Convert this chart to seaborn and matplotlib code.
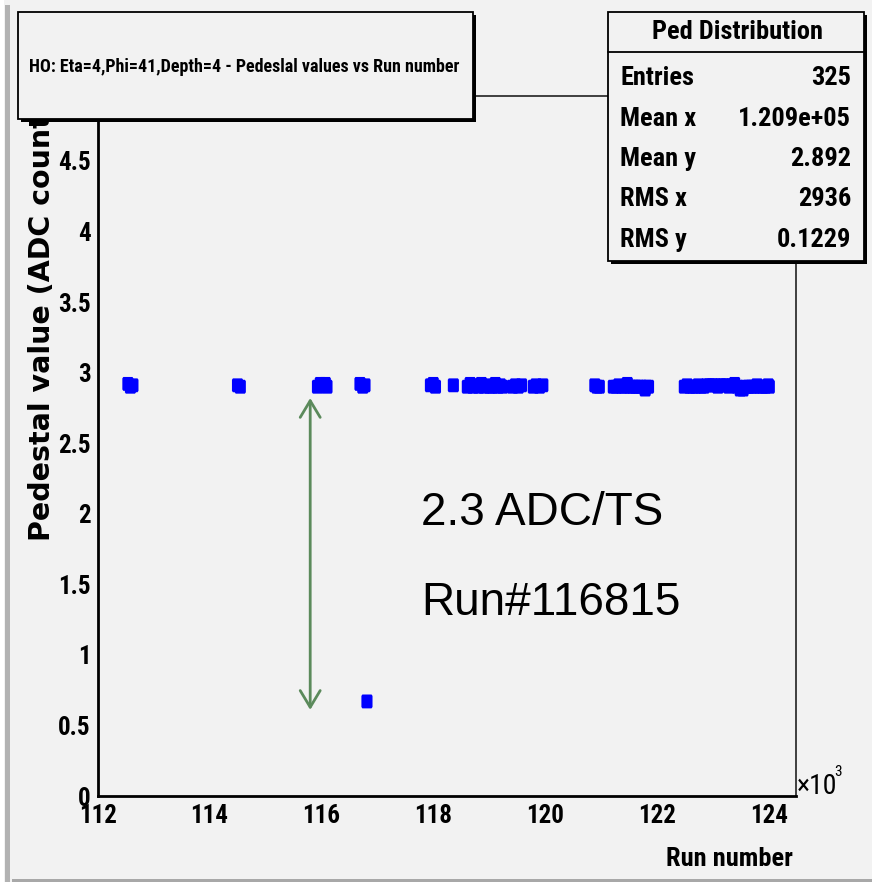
import numpy as np
import pandas as pd
import matplotlib
matplotlib.use("Agg")
import matplotlib.pyplot as plt
import seaborn as sns
from matplotlib.patches import Rectangle
from matplotlib.lines import Line2D
from matplotlib.path import Path
from matplotlib.ticker import MultipleLocator, FuncFormatter
from matplotlib import font_manager

# ---------------- data ----------------
runs = [112540, 112585, 112630,
        114500, 114550,
        115930, 115980, 116030, 116070, 116100,
        116690, 116740, 116780,
        116815,
        117950, 118000, 118040,
        118360,
        118610, 118660, 118710, 118760, 118810, 118860, 118910, 118960,
        119010, 119060, 119110, 119160, 119200, 119240,
        119420, 119470, 119520, 119580,
        119790, 119840, 119900, 119960,
        120890, 120930, 120970,
        121220, 121270, 121320, 121370, 121420, 121470, 121520, 121570,
        121620, 121670, 121720, 121790, 121810, 121850,
        122490, 122540, 122590, 122640, 122690, 122740, 122790, 122840,
        122890, 122940, 122990, 123040, 123090, 123140, 123190, 123240,
        123290, 123340, 123390, 123440, 123490, 123540, 123590, 123640,
        123690, 123740, 123790, 123840, 123890, 123940, 123990, 124010]
peds = [2.92, 2.90, 2.91,
        2.91, 2.90,
        2.90, 2.92, 2.91, 2.92, 2.90,
        2.92, 2.90, 2.91,
        0.67,
        2.91, 2.92, 2.90,
        2.91,
        2.90, 2.92, 2.90, 2.91, 2.90, 2.92, 2.90, 2.91,
        2.90, 2.90, 2.92, 2.90, 2.91, 2.90,
        2.90, 2.91, 2.90, 2.91,
        2.90, 2.91, 2.90, 2.91,
        2.91, 2.90, 2.90,
        2.90, 2.90, 2.91, 2.90, 2.90, 2.92, 2.90, 2.90,
        2.90, 2.90, 2.90, 2.88, 2.90, 2.90,
        2.90, 2.91, 2.90, 2.90, 2.90, 2.91, 2.90, 2.90,
        2.91, 2.91, 2.91, 2.91, 2.90, 2.91, 2.91, 2.91,
        2.90, 2.91, 2.92, 2.90, 2.88, 2.88, 2.90, 2.90,
        2.90, 2.90, 2.91, 2.90, 2.90, 2.90, 2.91, 2.90]

title_text = "HO: Eta=4,Phi=41,Depth=4 - Pedeslal values vs Run number"
stats_title = "Ped Distribution"
stats_labels = ["Entries", "Mean x", "Mean y", "RMS x", "RMS y"]
stats_values = ["325", "1.209e+05", "2.892", "2936", "0.1229"]
note_lines = ["2.3 ADC/TS", "Run#116815"]
arrow_run = 115800
arrow_from, arrow_to = 0.61, 2.82

df = pd.DataFrame({"run": runs, "ped": peds})

# ---------------- style ----------------
sns.set_theme(style="white")
BG = "#f2f2f2"
names = {f.name for f in font_manager.fontManager.ttflist}
NSTRETCH = "normal"
NARROW = None
for cand in ["Liberation Sans Narrow", "Arial Narrow", "Roboto Condensed",
             "Open Sans Condensed", "Noto Sans Condensed"]:
    if cand in names:
        NARROW = [cand, "DejaVu Sans"]
        break
if NARROW is None:
    NARROW = ["DejaVu Sans Condensed", "DejaVu Sans"] if "DejaVu Sans Condensed" in names else ["DejaVu Sans"]
    NSTRETCH = "condensed"
IS_DEJAVU = NARROW[0].startswith("DejaVu")
SC = 0.86 if IS_DEJAVU else 1.0   # DejaVu condensed is wider: shrink a bit

plt.rcParams["font.family"] = NARROW
plt.rcParams["font.stretch"] = NSTRETCH
for k in ["text.color", "axes.labelcolor", "xtick.color", "ytick.color"]:
    plt.rcParams[k] = "black"

NP = dict(family=NARROW, fontstretch=NSTRETCH)

W, H = 872, 882
fig = plt.figure(figsize=(W / 100, H / 100), dpi=100, facecolor=BG)

def fx(x):
    return x / W

def fy(y):
    return 1 - y / H

ax_l, ax_r, ax_t, ax_b = 97.7, 795.6, 96, 796
ax = fig.add_axes([fx(ax_l), fy(ax_b), fx(ax_r - ax_l), (ax_b - ax_t) / H])
ax.set_facecolor(BG)

marker = Path([(-0.33, -0.5), (0.33, -0.5), (0.4, -0.4), (0.4, 0.4),
               (0.33, 0.5), (-0.33, 0.5), (-0.4, 0.4), (-0.4, -0.4),
               (-0.33, -0.5)], closed=True)
sns.scatterplot(data=df, x="run", y="ped", ax=ax, color="#0000ff",
                marker=marker, s=100, edgecolor="none", linewidth=0,
                legend=False, zorder=3)

ax.set_xlim(112000, 124480)
ax.set_ylim(0, 4.96)
ax.xaxis.set_major_locator(MultipleLocator(2000))
ax.xaxis.set_minor_locator(MultipleLocator(500))
ax.yaxis.set_major_locator(MultipleLocator(0.5))
ax.yaxis.set_minor_locator(MultipleLocator(0.1))
ax.xaxis.set_major_formatter(FuncFormatter(lambda v, p: f"{v/1000:.0f}"))
ax.yaxis.set_major_formatter(FuncFormatter(lambda v, p: f"{v:g}"))
ax.tick_params(axis="both", which="major", direction="in", length=16,
               width=1.3, color="black", labelsize=18 * (0.95 if IS_DEJAVU else 1.0))
ax.tick_params(axis="both", which="minor", direction="in", length=8,
               width=1.3, color="black")
ax.tick_params(axis="x", which="major", pad=6)
ax.tick_params(axis="y", which="major", pad=5)
for lab in ax.get_xticklabels() + ax.get_yticklabels():
    lab.set_fontweight("bold")
    lab.set_family(NARROW)
    lab.set_fontstretch(NSTRETCH)
ax.set_xlabel("")
ax.set_ylabel("")
for side in ["left", "bottom"]:
    ax.spines[side].set_linewidth(2.0)
    ax.spines[side].set_color("black")
for side in ["right", "top"]:
    ax.spines[side].set_linewidth(1.2)
    ax.spines[side].set_color("#222222")

# arrow
ax.annotate("", xy=(arrow_run, arrow_from), xytext=(arrow_run, arrow_to),
            arrowprops=dict(arrowstyle="<->,head_length=0.6,head_width=0.36",
                            color="#5b8a5b", lw=2.0, mutation_scale=20,
                            shrinkA=0, shrinkB=0))

# axis titles
fig.text(fx(793), fy(866), "Run number", ha="right", va="baseline",
         fontsize=19, fontweight="bold", **NP)
fig.text(fx(42), fy(541), "Pedestal value (ADC counts)", rotation=90,
         ha="center", va="bottom", fontsize=20.5, fontweight="bold",
         family=["DejaVu Sans"], fontstretch="normal", zorder=1)
fig.text(fx(797), fy(794), "\u00d710", ha="left", va="baseline",
         fontsize=20, **NP)
fig.text(fx(834), fy(776), "3", ha="left", va="baseline",
         fontsize=11, **NP)

# notes
for i, t in enumerate(note_lines):
    fig.text(fx(421), fy(525 + 90 * i), t, ha="left", va="baseline",
             fontsize=33, color="black",
             family=["Liberation Sans", "DejaVu Sans"], fontstretch="normal")

# boxes with shadow
def box(x0, y0, x1, y1):
    fig.add_artist(Rectangle((fx(x0 + 3), fy(y1 + 3)), fx(x1 - x0), (y1 - y0) / H,
                             transform=fig.transFigure, facecolor="black",
                             edgecolor="black", lw=0, zorder=9))
    fig.add_artist(Rectangle((fx(x0), fy(y1)), fx(x1 - x0), (y1 - y0) / H,
                             transform=fig.transFigure, facecolor=BG,
                             edgecolor="black", lw=1.3, zorder=10))

box(18, 12, 473, 119)
fig.text(fx(244), fy(67), title_text, ha="center", va="center",
         fontsize=(10.6 if IS_DEJAVU else 13), fontweight="bold", zorder=11, **NP)

box(608, 12, 864, 261)
fig.add_artist(Line2D([fx(608), fx(864)], [fy(52), fy(52)],
                      transform=fig.transFigure, color="black", lw=1.3, zorder=11))
fig.text(fx(737), fy(32), stats_title, ha="center", va="center", fontsize=19 * SC + (1 if IS_DEJAVU else 0),
         fontweight="bold", zorder=11, **NP)
for i, (lab, val) in enumerate(zip(stats_labels, stats_values)):
    yb = 85 + 40.5 * i
    fig.text(fx(620), fy(yb), lab, ha="left", va="baseline", fontsize=19 * SC,
             fontweight="bold", zorder=11, **NP)
    fig.text(fx(851), fy(yb), val, ha="right", va="baseline", fontsize=19 * SC,
             fontweight="bold", zorder=11, **NP)

# canvas borders
fig.add_artist(Rectangle((0, 0), fx(4), 1, transform=fig.transFigure,
                         facecolor="white", lw=0, zorder=0))
fig.add_artist(Rectangle((fx(5), 0), fx(5), fy(5), transform=fig.transFigure,
                         facecolor="#b2b2b2", lw=0, zorder=0))
fig.add_artist(Rectangle((fx(12), 0), 1, 3.5 / H, transform=fig.transFigure,
                         facecolor="#a8a8a8", lw=0, zorder=0))

fig.savefig("out.png", dpi=100, facecolor=BG)
